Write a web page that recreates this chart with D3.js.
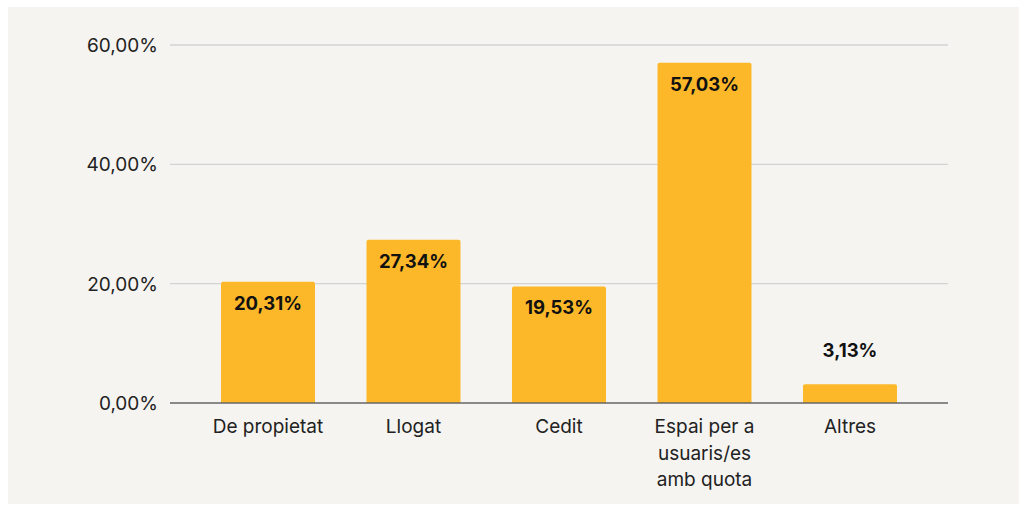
<!DOCTYPE html>
<html><head><meta charset="utf-8">
<script src="https://cdn.jsdelivr.net/npm/d3@7"></script>
<style>
html,body{margin:0;padding:0;background:#fff;}
svg{display:block;}
</style></head>
<body>
<svg id="chart" width="1027" height="511"></svg>
<script>
const categories = [["De propietat"], ["Llogat"], ["Cedit"], ["Espai per a","usuaris/es","amb quota"], ["Altres"]];
const values = [20.31, 27.34, 19.53, 57.03, 3.13];
const valueLabels = ["20,31%", "27,34%", "19,53%", "57,03%", "3,13%"];
const yTicks = [0, 20, 40, 60];
const yTickLabels = ["0,00%", "20,00%", "40,00%", "60,00%"];

const svg = d3.select("#chart");
const font = "Inter, 'Open Sans', sans-serif";

svg.append("rect").attr("x",8).attr("y",7).attr("width",1011).attr("height",497).attr("fill","#f5f4f1");

const gridL = 170, gridR = 948;
const x = d3.scaleBand().domain(d3.range(categories.length)).range([195.25, 922.75]).paddingInner(0.354).paddingOuter(0.177);
const y = d3.scaleLinear().domain([0, 60]).range([403, 45]);

svg.append("g").selectAll("line").data(yTicks.filter(d=>d>0)).join("line")
  .attr("x1", gridL).attr("x2", gridR)
  .attr("y1", d=>y(d)).attr("y2", d=>y(d))
  .attr("stroke","#d3d3d3").attr("stroke-width",1.3);

const yAxis = d3.axisLeft(y).tickValues(yTicks).tickSize(0).tickPadding(0).tickFormat((d,i)=>yTickLabels[i]);
const gy = svg.append("g").attr("transform",`translate(158,0)`).call(yAxis);
gy.select(".domain").remove();
gy.selectAll("text").attr("font-family",font).attr("font-size",19).attr("fill","#222").attr("dy","0.35em");

const r = 2;
svg.append("g").selectAll("path").data(values).join("path")
  .attr("fill","#fdb829")
  .attr("d",(d,i)=>{
    const x0 = x(i), w = x.bandwidth(), y0 = y(d), y1 = y(0);
    return `M${x0},${y1}V${y0+r}Q${x0},${y0} ${x0+r},${y0}H${x0+w-r}Q${x0+w},${y0} ${x0+w},${y0+r}V${y1}Z`;
  });

svg.append("line").attr("x1",gridL).attr("x2",gridR).attr("y1",y(0)).attr("y2",y(0))
  .attr("stroke","#666").attr("stroke-width",1.5);

svg.append("g").selectAll("text").data(values).join("text")
  .attr("x",(d,i)=>x(i)+x.bandwidth()/2)
  .attr("y",(d,i)=> (y(0)-y(d) > 40) ? y(d)+28 : y(d)-27)
  .attr("text-anchor","middle")
  .attr("font-family",font).attr("font-size",18.5).attr("font-weight",700).attr("fill","#111")
  .text((d,i)=>valueLabels[i]);

const gx = svg.append("g");
categories.forEach((lines,i)=>{
  const t = gx.append("text").attr("x",x(i)+x.bandwidth()/2).attr("y",433)
    .attr("text-anchor","middle").attr("font-family",font).attr("font-size",19).attr("fill","#222");
  lines.forEach((l,j)=>t.append("tspan").attr("x",x(i)+x.bandwidth()/2).attr("dy", j===0?0:26.5).text(l));
});
</script>
</body></html>
